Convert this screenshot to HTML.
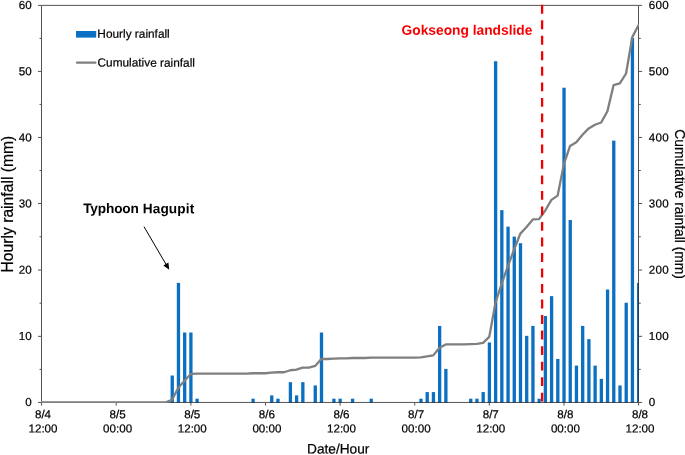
<!DOCTYPE html>
<html lang="en">
<head>
<meta charset="utf-8">
<title>Hourly and cumulative rainfall</title>
<style>
html,body{margin:0;padding:0;background:#fff;}
body{width:685px;height:455px;overflow:hidden;}
svg{display:block;}
text{font-family:"Liberation Sans",sans-serif;fill:#000;stroke:#000;stroke-width:0.22px;}
.tk{font-size:11.6px;}
.lg{font-size:11.85px;}
.b{font-weight:bold;stroke:none;}
</style>
</head>
<body>
<svg width="685" height="455" viewBox="0 0 685 455">
<rect x="0" y="0" width="685" height="455" fill="#ffffff"/>

<g fill="#0b6fc2">
<rect x="170.59" y="375.53" width="3.3" height="26.97"/>
<rect x="176.81" y="282.9" width="3.3" height="119.6"/>
<rect x="183.03" y="332.52" width="3.3" height="69.97"/>
<rect x="189.25" y="332.52" width="3.3" height="69.97"/>
<rect x="195.47" y="398.69" width="3.3" height="3.81"/>
<rect x="251.44" y="398.69" width="3.3" height="3.81"/>
<rect x="270.09" y="395.38" width="3.3" height="7.12"/>
<rect x="276.31" y="398.69" width="3.3" height="3.81"/>
<rect x="288.75" y="382.15" width="3.3" height="20.35"/>
<rect x="294.97" y="395.38" width="3.3" height="7.12"/>
<rect x="301.19" y="382.15" width="3.3" height="20.35"/>
<rect x="313.62" y="385.46" width="3.3" height="17.04"/>
<rect x="319.84" y="332.52" width="3.3" height="69.97"/>
<rect x="332.28" y="398.69" width="3.3" height="3.81"/>
<rect x="338.5" y="398.69" width="3.3" height="3.81"/>
<rect x="350.94" y="398.69" width="3.3" height="3.81"/>
<rect x="369.59" y="398.69" width="3.3" height="3.81"/>
<rect x="419.34" y="398.69" width="3.3" height="3.81"/>
<rect x="425.56" y="392.07" width="3.3" height="10.42"/>
<rect x="431.78" y="392.07" width="3.3" height="10.42"/>
<rect x="438" y="325.91" width="3.3" height="76.59"/>
<rect x="444.22" y="368.92" width="3.3" height="33.58"/>
<rect x="469.09" y="398.69" width="3.3" height="3.81"/>
<rect x="475.31" y="398.69" width="3.3" height="3.81"/>
<rect x="481.53" y="392.07" width="3.3" height="10.42"/>
<rect x="487.75" y="342.45" width="3.3" height="60.05"/>
<rect x="493.97" y="61.24" width="3.3" height="341.26"/>
<rect x="500.19" y="210.12" width="3.3" height="192.38"/>
<rect x="506.41" y="226.66" width="3.3" height="175.84"/>
<rect x="512.62" y="236.58" width="3.3" height="165.92"/>
<rect x="518.84" y="243.2" width="3.3" height="159.3"/>
<rect x="525.06" y="335.83" width="3.3" height="66.67"/>
<rect x="531.28" y="325.91" width="3.3" height="76.59"/>
<rect x="537.5" y="398.69" width="3.3" height="3.81"/>
<rect x="543.72" y="315.98" width="3.3" height="86.52"/>
<rect x="549.94" y="296.13" width="3.3" height="106.37"/>
<rect x="556.16" y="358.99" width="3.3" height="43.51"/>
<rect x="562.38" y="87.71" width="3.3" height="314.79"/>
<rect x="568.59" y="220.04" width="3.3" height="182.46"/>
<rect x="574.81" y="365.61" width="3.3" height="36.89"/>
<rect x="581.03" y="325.91" width="3.3" height="76.59"/>
<rect x="587.25" y="339.14" width="3.3" height="63.36"/>
<rect x="593.47" y="365.61" width="3.3" height="36.89"/>
<rect x="599.69" y="378.84" width="3.3" height="23.66"/>
<rect x="605.91" y="289.52" width="3.3" height="112.98"/>
<rect x="612.12" y="140.64" width="3.3" height="261.86"/>
<rect x="618.34" y="385.46" width="3.3" height="17.04"/>
<rect x="624.56" y="302.75" width="3.3" height="99.75"/>
<rect x="630.78" y="38.08" width="3.3" height="364.42"/>
<rect x="637" y="282.9" width="1.5" height="119.6"/>
</g>
<g stroke="#000" stroke-opacity="0.68" stroke-width="1" fill="none">
<path d="M38 5.38 H642.1"/>
<path d="M41.5 5.88 V401.95"/>
<path d="M638.5 5.88 V401.95"/>
<path d="M38 402.45 H642.1"/>
<path d="M39.5 369.39H41M639 369.39H640.8M38 336.34H41M639 336.34H642.1M39.5 303.17H41M639 303.17H640.8M38 270H41M639 270H642.1M39.5 236.75H41M639 236.75H640.8M38 203.5H41M639 203.5H642.1M39.5 170.47H41M639 170.47H640.8M38 137.45H41M639 137.45H642.1M39.5 104.42H41M639 104.42H640.8M38 71.4H41M639 71.4H642.1M39.5 38.39H41M639 38.39H640.8M41.6 403V405.6M116.22 403V405.6M190.85 403V405.6M265.48 403V405.6M340.1 403V405.6M414.73 403V405.6M489.35 403V405.6M563.98 403V405.6M638.6 403V405.6"/>
</g>
<clipPath id="pc"><rect x="41" y="0" width="598" height="403"/></clipPath>
<polyline clip-path="url(#pc)" fill="none" stroke="#7f7f7f" stroke-width="2.3" stroke-linejoin="round" stroke-linecap="round" points="41.5,402.35 47.72,402.35 53.94,402.35 60.16,402.35 66.38,402.35 72.59,402.35 78.81,402.35 85.03,402.35 91.25,402.35 97.47,402.35 103.69,402.35 109.91,402.35 116.12,402.35 122.34,402.35 128.56,402.35 134.78,402.35 141,402.35 147.22,402.35 153.44,402.35 159.66,402.35 165.88,402.35 172.09,399.7 178.31,387.79 184.53,380.85 190.75,373.9 196.97,373.57 203.19,373.57 209.41,373.57 215.62,373.57 221.84,373.57 228.06,373.57 234.28,373.57 240.5,373.57 246.72,373.57 252.94,373.24 259.16,373.24 265.38,373.24 271.59,372.58 277.81,372.24 284.03,372.24 290.25,370.26 296.47,369.6 302.69,367.61 308.91,367.61 315.12,365.96 321.34,359.01 327.56,359.01 333.78,358.68 340,358.35 346.22,358.35 352.44,358.02 358.66,358.02 364.88,358.02 371.09,357.69 377.31,357.69 383.53,357.69 389.75,357.69 395.97,357.69 402.19,357.69 408.41,357.69 414.62,357.69 420.84,357.36 427.06,356.36 433.28,355.37 439.5,347.76 445.72,344.45 451.94,344.45 458.16,344.45 464.38,344.45 470.59,344.12 476.81,343.79 483.03,342.8 489.25,336.85 495.47,302.77 501.69,283.58 507.91,266.05 514.12,249.51 520.34,233.63 526.56,227.01 532.78,219.4 539,219.07 545.22,210.47 551.44,199.88 557.66,195.58 563.88,164.15 570.09,145.95 576.31,142.32 582.53,134.71 588.75,128.42 594.97,124.78 601.19,122.47 607.41,111.22 613.62,85.08 619.84,83.43 626.06,73.5 632.28,37.11 638.5,25.2"/>
<path d="M542.1 4.8V402.5" stroke="#f00000" stroke-width="2.3" stroke-dasharray="8.86 6.655" fill="none"/>
<text transform="translate(31.6 406.1) rotate(0.03)" class="tk" text-anchor="end">0</text>
<text transform="translate(648.65 406.1) rotate(0.03)" class="tk" letter-spacing="0.35">0</text>
<text transform="translate(31.6 339.93) rotate(0.03)" class="tk" text-anchor="end">10</text>
<text transform="translate(648.65 339.93) rotate(0.03)" class="tk" letter-spacing="0.35">100</text>
<text transform="translate(31.6 273.77) rotate(0.03)" class="tk" text-anchor="end">20</text>
<text transform="translate(648.65 273.77) rotate(0.03)" class="tk" letter-spacing="0.35">200</text>
<text transform="translate(31.6 207.6) rotate(0.03)" class="tk" text-anchor="end">30</text>
<text transform="translate(648.65 207.6) rotate(0.03)" class="tk" letter-spacing="0.35">300</text>
<text transform="translate(31.6 141.43) rotate(0.03)" class="tk" text-anchor="end">40</text>
<text transform="translate(648.65 141.43) rotate(0.03)" class="tk" letter-spacing="0.35">400</text>
<text transform="translate(31.6 75.27) rotate(0.03)" class="tk" text-anchor="end">50</text>
<text transform="translate(648.65 75.27) rotate(0.03)" class="tk" letter-spacing="0.35">500</text>
<text transform="translate(31.6 9.1) rotate(0.03)" class="tk" text-anchor="end">60</text>
<text transform="translate(648.65 9.1) rotate(0.03)" class="tk" letter-spacing="0.35">600</text>
<text transform="translate(43 418.2) rotate(0.03)" class="tk" text-anchor="middle">8/4</text>
<text transform="translate(43 432.6) rotate(0.03)" class="tk" text-anchor="middle">12:00</text>
<text transform="translate(117.62 418.2) rotate(0.03)" class="tk" text-anchor="middle">8/5</text>
<text transform="translate(117.62 432.6) rotate(0.03)" class="tk" text-anchor="middle">00:00</text>
<text transform="translate(192.25 418.2) rotate(0.03)" class="tk" text-anchor="middle">8/5</text>
<text transform="translate(192.25 432.6) rotate(0.03)" class="tk" text-anchor="middle">12:00</text>
<text transform="translate(266.88 418.2) rotate(0.03)" class="tk" text-anchor="middle">8/6</text>
<text transform="translate(266.88 432.6) rotate(0.03)" class="tk" text-anchor="middle">00:00</text>
<text transform="translate(341.5 418.2) rotate(0.03)" class="tk" text-anchor="middle">8/6</text>
<text transform="translate(341.5 432.6) rotate(0.03)" class="tk" text-anchor="middle">12:00</text>
<text transform="translate(416.12 418.2) rotate(0.03)" class="tk" text-anchor="middle">8/7</text>
<text transform="translate(416.12 432.6) rotate(0.03)" class="tk" text-anchor="middle">00:00</text>
<text transform="translate(490.75 418.2) rotate(0.03)" class="tk" text-anchor="middle">8/7</text>
<text transform="translate(490.75 432.6) rotate(0.03)" class="tk" text-anchor="middle">12:00</text>
<text transform="translate(565.38 418.2) rotate(0.03)" class="tk" text-anchor="middle">8/8</text>
<text transform="translate(565.38 432.6) rotate(0.03)" class="tk" text-anchor="middle">00:00</text>
<text transform="translate(640 418.2) rotate(0.03)" class="tk" text-anchor="middle">8/8</text>
<text transform="translate(640 432.6) rotate(0.03)" class="tk" text-anchor="middle">12:00</text>
<text transform="translate(338.2 453.6) rotate(0.03)" text-anchor="middle" font-size="13.7">Date/Hour</text>
<text transform="translate(12.7 204.1) rotate(-90)" text-anchor="middle" font-size="15.7">Hourly rainfall (mm)</text>
<text transform="translate(674.5 204.1) rotate(90) scale(1 1.04)" text-anchor="middle" font-size="13.81">Cumulative rainfall (mm)</text>
<rect x="76" y="31" width="20.2" height="6.6" fill="#0b6fc2"/>
<text transform="translate(97.35 37.8) rotate(0.03)" class="lg">Hourly rainfall</text>
<path d="M77 62.7H95.4" stroke="#7f7f7f" stroke-width="2.3" stroke-linecap="round" fill="none"/>
<text transform="translate(97.5 66.6) rotate(0.03)" class="lg">Cumulative rainfall</text>
<text transform="translate(83.2 213.1) rotate(0.03)" class="b" font-size="13.65"><tspan letter-spacing="-0.16">Typhoon</tspan><tspan letter-spacing="0.25"> </tspan><tspan letter-spacing="0.13">Hagupit</tspan></text>
<path d="M144 226.7L168 267.7" stroke="#000" stroke-width="1" fill="none"/>
<path d="M169.2 269.7L163.41 265.56L168.41 262.62Z" fill="#000"/>
<text transform="translate(401.6 34.8) rotate(0.03)" class="b" font-size="13.77" style="fill:#f80000">Gokseong landslide</text>
</svg>
</body>
</html>
